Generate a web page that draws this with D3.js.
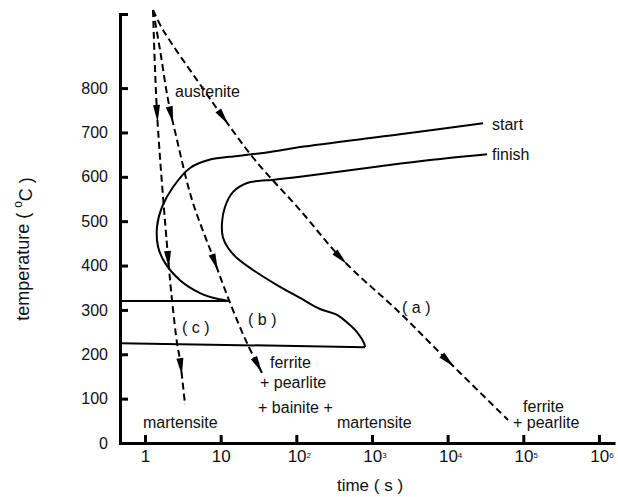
<!DOCTYPE html>
<meta charset="utf-8">
<script src="https://d3js.org/d3.v7.min.js"></script>
<style>
  body { margin: 0; background: #fff; }
  text { font-family: "Liberation Sans", Arial, sans-serif; fill: #111; }
</style>
<div id="chart"></div>
<script>

// axis ticks
const timeTicks = [1, 10, 1e2, 1e3, 1e4, 1e5, 1e6];
const tempTicks = [0, 100, 200, 300, 400, 500, 600, 700, 800];

// transformation curves, [time (s), temperature (C)]
const startCurve = [[29400, 721], [2349, 696], [112, 667], [44.9, 656], [13.3, 645], [7.69, 640],
  [3.94, 620], [2.35, 577], [1.68, 532], [1.44, 487], [1.49, 442], [1.84, 406], [2.9, 367],
  [5.33, 338], [8.95, 325], [13.3, 320]];
const finishCurve = [[33200, 651], [5850, 638], [1277, 624], [112, 600], [47.7, 593], [33.1, 591],
  [22.3, 586], [14.6, 566], [11.4, 532], [10.4, 496], [10.7, 464], [12.5, 440], [16.4, 417],
  [26.8, 390], [55.6, 356], [112, 327], [206, 302], [345, 289], [482, 270], [634, 250],
  [790, 224], [809, 216]];
const msLine = [[0.467, 320], [13.3, 320]];
const mfLine = [[0.467, 225], [809, 216]];

// cooling paths
const coolA = [[1.276, 976], [1.73, 931], [4.87, 818], [10.7, 735], [28.4, 638], [112, 525],
  [414, 412], [2349, 293], [9820, 187], [62900, 52]];
const coolB = [[1.276, 976], [1.579, 886], [2.014, 774], [2.65, 683], [4.18, 548], [7.92, 419],
  [13.3, 316], [22.3, 225], [35.2, 158]];
const coolC = [[1.276, 976], [1.441, 744], [2.014, 419], [2.275, 322], [2.65, 225], [2.9, 187], [3.38, 86]];

// arrow tips on each path
const arrowsA = [[13.3, 721], [482, 406], [11780, 169]];
const arrowsB = [[2.34, 721], [9.23, 390], [35.2, 158]];
const arrowsC = [[1.441, 724], [2.04, 394], [2.99, 153]];

// labels, [text, time, temp]
const labels = [
  ["austenite", 2.49, 780], ["start", 38600, 705], ["finish", 38600, 638],
  ["( a )", 2496, 293], ["( b )", 23.0, 266], ["( c )", 3.08, 248],
  ["ferrite", 44.9, 169], ["+ pearlite", 33.1, 124], ["+ bainite +", 31.2, 68],
  ["martensite", 345, 34], ["martensite", 0.941, 34],
  ["ferrite", 99300, 70], ["+ pearlite", 73200, 34]
];

const width = 618, height = 497;

const svg = d3.select("#chart").append("svg")
  .attr("width", width)
  .attr("height", height);

const x = d3.scaleLog().domain([0.467, 1.63e6]).range([120, 615]);
const y = d3.scaleLinear().domain([0, 967]).range([443, 14]);

// x axis
const xAxis = svg.append("g")
  .attr("transform", `translate(0,${y(0)})`)
  .call(d3.axisBottom(x).tickValues(timeTicks).tickSize(-8).tickSizeOuter(0).tickPadding(7).tickFormat(() => ""));
xAxis.selectAll(".tick text").each(function(d) {
  const t = d3.select(this).style("font-size", "17px").attr("font-family", null);
  const e = Math.round(Math.log10(d));
  if (e < 2) t.text(String(d));
  else {
    t.attr("dx", 2.5);
    t.append("tspan").text("10");
    t.append("tspan").attr("dy", "-0.45em").style("font-size", "8px").text(e);
  }
});

// y axis
const yAxis = svg.append("g")
  .attr("transform", `translate(${x.range()[0]},0)`)
  .call(d3.axisLeft(y).tickValues(tempTicks).tickSize(-8).tickSizeOuter(-8).tickPadding(12));
yAxis.selectAll(".tick text").style("font-size", "16px").attr("font-family", null);

svg.selectAll(".domain, .tick line").attr("stroke", "#000").attr("stroke-width", 3);

// axis titles
svg.append("text")
  .attr("x", 370).attr("y", 491)
  .attr("text-anchor", "middle")
  .style("font-size", "17px")
  .text("time ( s )");

const yt = svg.append("text")
  .attr("transform", "translate(29,249) rotate(-90)")
  .attr("text-anchor", "middle")
  .style("font-size", "18px");
yt.append("tspan").text("temperature ( ");
yt.append("tspan").attr("dy", "-0.55em").style("font-size", "12px").text("o");
yt.append("tspan").attr("dy", "0.55em").text("C )");

const line = d3.line()
  .x(d => x(d[0]))
  .y(d => y(d[1]))
  .curve(d3.curveCatmullRom.alpha(0.5));

// solid transformation lines
[startCurve, finishCurve, msLine, mfLine].forEach(c => {
  svg.append("path")
    .datum(c)
    .attr("d", line)
    .attr("fill", "none")
    .attr("stroke", "#000")
    .attr("stroke-width", 2);
});

// cooling paths with arrowheads
[[coolA, arrowsA], [coolB, arrowsB], [coolC, arrowsC]].forEach(([c, arrows]) => {
  const p = svg.append("path")
    .datum(c)
    .attr("d", line)
    .attr("fill", "none")
    .attr("stroke", "#000")
    .attr("stroke-width", 2)
    .attr("stroke-dasharray", "7,4");
  const node = p.node();
  const total = node.getTotalLength();
  arrows.forEach(a => {
    const ax = x(a[0]), ay = y(a[1]);
    let best = 0, bd = Infinity;
    for (let l = 0; l <= total; l += 0.5) {
      const pt = node.getPointAtLength(l);
      const dd = (pt.x - ax) ** 2 + (pt.y - ay) ** 2;
      if (dd < bd) { bd = dd; best = l; }
    }
    const tip = node.getPointAtLength(best);
    const back = node.getPointAtLength(Math.max(0, best - 6));
    const ang = Math.atan2(tip.y - back.y, tip.x - back.x) * 180 / Math.PI;
    svg.append("path")
      .attr("d", "M0,0L-17,-3.5L-17,3.5Z")
      .attr("transform", `translate(${tip.x},${tip.y}) rotate(${ang})`)
      .attr("fill", "#000");
  });
});

// region labels
svg.selectAll(".lbl")
  .data(labels)
  .join("text")
  .attr("class", "lbl")
  .attr("x", d => x(d[1]))
  .attr("y", d => y(d[2]))
  .style("font-size", "16px")
  .text(d => d[0]);

</script>
